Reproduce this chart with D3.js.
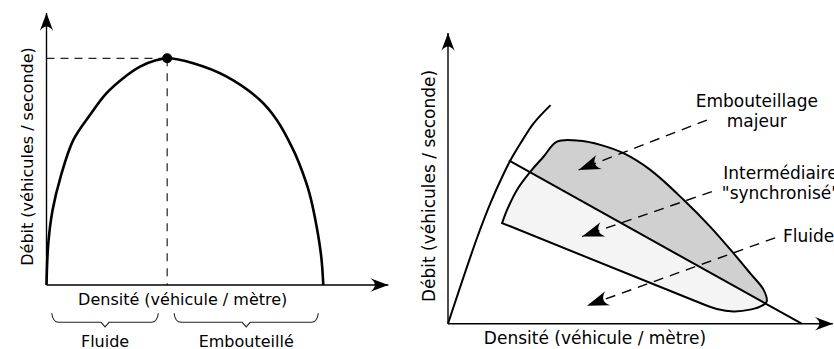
<!DOCTYPE html>
<html>
<head>
<meta charset="utf-8">
<script src="https://cdn.jsdelivr.net/npm/d3@7"></script>
<style>
  html, body { margin: 0; padding: 0; background: #fff; }
  svg { display: block; }
  text { font-family: "DejaVu Sans", sans-serif; fill: #000; }
</style>
</head>
<body>
<script>
// ---------- Left panel: fundamental diagram (density vs flow) ----------
const densityL = [0, 0.65, 2.2, 5.1, 9.7, 15.7, 21.7, 27.7, 33.8, 39.8, 43.6, 53.0, 65.1, 77.1, 83.2, 89.2, 92.2, 95.0, 97.6, 99.3, 100];
const flowL    = [0, 18.4, 33.1, 47.7, 64.0, 75.0, 84.6, 91.2, 96.3, 99.2, 100, 97.8, 91.9, 81.6, 72.8, 59.5, 50.7, 40.4, 25.7, 12.0, 0];
const criticalDensity = 43.6;
const maxFlow = 100;
const phaseNames = ["Fluide", "Embouteillé"];
const phaseStart = [1.9, 46.1];
const phaseEnd   = [40.4, 98.2];

// ---------- Right panel: three-phase traffic theory ----------
const freeDensity = [0, 8.2, 12.0, 15.8, 17.7, 20.5, 24.2, 29.0];
const freeFlow    = [0, 39.0, 54.9, 68.5, 74.5, 82.1, 91.2, 99.5];
const jamDensity  = [17.2, 100];
const jamFlow     = [74.3, 0];
const syncDensity = [15.3, 16.7, 19.5, 23.3, 27.0, 30.8, 37.4, 43.1, 49.6, 57.2, 66.6, 74.1, 80.7, 85.4, 89.2, 90.1, 89.2, 85.4, 80.7, 76.0, 71.3];
const syncFlow    = [45.8, 51.8, 60.9, 69.2, 76.0, 82.9, 83.3, 81.4, 77.6, 70.0, 56.4, 44.2, 32.1, 23.0, 15.5, 10.1, 8.6, 6.4, 5.6, 6.7, 9.4];
const arrowFromD = [73.2, 74.6, 92.5];
const arrowFromF = [92.7, 60.1, 39.1];
const arrowToD   = [36.9, 37.9, 39.3];
const arrowToF   = [70.0, 39.7, 8.2];
const phaseLabels = [["Embouteillage", "majeur"], ["Intermédiaire", "\"synchronisé\""], ["Fluide"]];

const xTitle = "Densité (véhicule / mètre)";
const yTitle = "Débit (véhicules / seconde)";

const W = 834, H = 349;
const svg = d3.select("body").append("svg").attr("width", W).attr("height", H);
const defs = svg.append("defs");

function marker(id, len, half, notch) {
  defs.append("marker")
    .attr("id", id)
    .attr("markerUnits", "userSpaceOnUse")
    .attr("viewBox", `${-len - 2} ${-half - 2} ${len + 4} ${2 * half + 4}`)
    .attr("markerWidth", len + 4)
    .attr("markerHeight", 2 * half + 4)
    .attr("refX", 0).attr("refY", 0)
    .attr("orient", "auto")
    .append("path")
    .attr("d", `M0,0 L${-len},${-half} C${-len + notch},${-half / 3} ${-len + notch},${half / 3} ${-len},${half} Z`)
    .attr("fill", "#000");
}
marker("axisArrow", 18, 6.7, 6);
marker("flowArrow", 22, 7.5, 6);

// ===== Left panel =====
const xL = d3.scaleLinear().domain([0, 100]).range([46.5, 323.3]);
const yL = d3.scaleLinear().domain([0, 100]).range([285, 58.3]);
const gL = svg.append("g");

// dashed critical lines
gL.append("line")
  .attr("x1", xL(0)).attr("y1", yL(maxFlow)).attr("x2", xL(criticalDensity)).attr("y2", yL(maxFlow))
  .attr("stroke", "#222").attr("stroke-width", 1.2).attr("stroke-dasharray", "8,6");
gL.append("line")
  .attr("x1", xL(criticalDensity)).attr("y1", yL(maxFlow)).attr("x2", xL(criticalDensity)).attr("y2", yL(0))
  .attr("stroke", "#222").attr("stroke-width", 1.2).attr("stroke-dasharray", "8,7");

// axes
gL.append("line").attr("x1", xL(0)).attr("y1", yL(0)).attr("x2", xL(123.5)).attr("y2", yL(0))
  .attr("stroke", "#000").attr("stroke-width", 1.4).attr("marker-end", "url(#axisArrow)");
gL.append("line").attr("x1", xL(0)).attr("y1", yL(0)).attr("x2", xL(0)).attr("y2", yL(120))
  .attr("stroke", "#000").attr("stroke-width", 1.4).attr("marker-end", "url(#axisArrow)");

// curve
gL.append("path")
  .attr("d", d3.line().x(d => xL(d[0])).y(d => yL(d[1])).curve(d3.curveCatmullRom.alpha(0.5))(d3.zip(densityL, flowL)))
  .attr("fill", "none").attr("stroke", "#000").attr("stroke-width", 2.6);
gL.append("circle").attr("cx", xL(criticalDensity)).attr("cy", yL(maxFlow)).attr("r", 5).attr("fill", "#000");

// axis titles
gL.append("text").attr("x", 182.7).attr("y", 304.5).attr("text-anchor", "middle")
  .style("font-size", "16px").text(xTitle);
gL.append("text").attr("transform", "translate(33,156.5) rotate(-90)").attr("text-anchor", "middle")
  .style("font-size", "16px").text(yTitle);

// braces
const bTop = 313.3, bMid = 322.3, bTip = 326.8;
phaseNames.forEach((name, i) => {
  const a = xL(phaseStart[i]), b = xL(phaseEnd[i]), m = (a + b) / 2;
  const p = d3.path();
  p.moveTo(a, bTop);
  p.quadraticCurveTo(a + 1, bMid, a + 7, bMid);
  p.lineTo(m - 4, bMid);
  p.lineTo(m, bTip);
  p.lineTo(m + 4, bMid);
  p.lineTo(b - 7, bMid);
  p.quadraticCurveTo(b - 1, bMid, b, bTop);
  gL.append("path").attr("d", p.toString()).attr("fill", "none")
    .attr("stroke", "#222").attr("stroke-width", 1.1);
  gL.append("text").attr("x", m).attr("y", 346.5).attr("text-anchor", "middle")
    .style("font-size", "16px").text(name);
});

// ===== Right panel =====
const xR = d3.scaleLinear().domain([0, 100]).range([448, 801.7]);
const yR = d3.scaleLinear().domain([0, 100]).range([323.7, 104]);
const gR = svg.append("g");
const lineR = d3.line().x(d => xR(d[0])).y(d => yR(d[1]));

const syncPts = d3.zip(syncDensity, syncFlow);
const syncPath = lineR.curve(d3.curveCatmullRom.alpha(0.5))(syncPts) + "Z";

// clip: region above the jam line
const slope = (jamFlow[1] - jamFlow[0]) / (jamDensity[1] - jamDensity[0]);
const f0 = jamFlow[0] - slope * jamDensity[0];
defs.append("clipPath").attr("id", "aboveJam").append("path")
  .attr("d", d3.line().x(d => xR(d[0])).y(d => yR(d[1]))([[0, f0], [100, 0], [110, 0], [110, 160], [0, 160]]) + "Z");

gR.append("path").attr("d", syncPath).attr("fill", "#f4f4f4").attr("stroke", "none");
gR.append("path").attr("d", syncPath).attr("fill", "#d0d0d0").attr("stroke", "none")
  .attr("clip-path", "url(#aboveJam)");
gR.append("path").attr("d", syncPath).attr("fill", "none").attr("stroke", "#000").attr("stroke-width", 2);

// jam line
gR.append("path")
  .attr("d", d3.line().x(d => xR(d[0])).y(d => yR(d[1]))(d3.zip(jamDensity, jamFlow)))
  .attr("fill", "none").attr("stroke", "#000").attr("stroke-width", 2);

// free flow
gR.append("path")
  .attr("d", d3.line().x(d => xR(d[0])).y(d => yR(d[1])).curve(d3.curveCatmullRom.alpha(0.5))(d3.zip(freeDensity, freeFlow)))
  .attr("fill", "none").attr("stroke", "#000").attr("stroke-width", 2);

// axes
gR.append("line").attr("x1", xR(0)).attr("y1", yR(0)).attr("x2", xR(108.8)).attr("y2", yR(0))
  .attr("stroke", "#000").attr("stroke-width", 1.4).attr("marker-end", "url(#axisArrow)");
gR.append("line").attr("x1", xR(0)).attr("y1", yR(0)).attr("x2", xR(0)).attr("y2", yR(132.3))
  .attr("stroke", "#000").attr("stroke-width", 1.4).attr("marker-end", "url(#axisArrow)");

// dashed arrows
arrowFromD.forEach((d, i) => {
  gR.append("line")
    .attr("x1", xR(d)).attr("y1", yR(arrowFromF[i]))
    .attr("x2", xR(arrowToD[i])).attr("y2", yR(arrowToF[i]))
    .attr("stroke", "#000").attr("stroke-width", 1.4).attr("stroke-dasharray", "10,7")
    .attr("marker-end", "url(#flowArrow)");
});

// labels
const labelPos = [
  { x: xR(87.3), y: 106.5, anchor: "middle" },
  { x: xR(94.0), y: 179, anchor: "middle" },
  { x: xR(94.7), y: 241.5, anchor: "start" }
];
phaseLabels.forEach((lines, i) => {
  const t = gR.append("text").attr("text-anchor", labelPos[i].anchor).style("font-size", "17px");
  lines.forEach((s, j) => {
    t.append("tspan").attr("x", labelPos[i].x).attr("y", labelPos[i].y + j * 20).text(s);
  });
});

gR.append("text").attr("x", 595).attr("y", 344).attr("text-anchor", "middle")
  .style("font-size", "17px").text(xTitle);
gR.append("text").attr("transform", "translate(435,186) rotate(-90)").attr("text-anchor", "middle")
  .style("font-size", "17px").text(yTitle);
</script>
</body>
</html>
